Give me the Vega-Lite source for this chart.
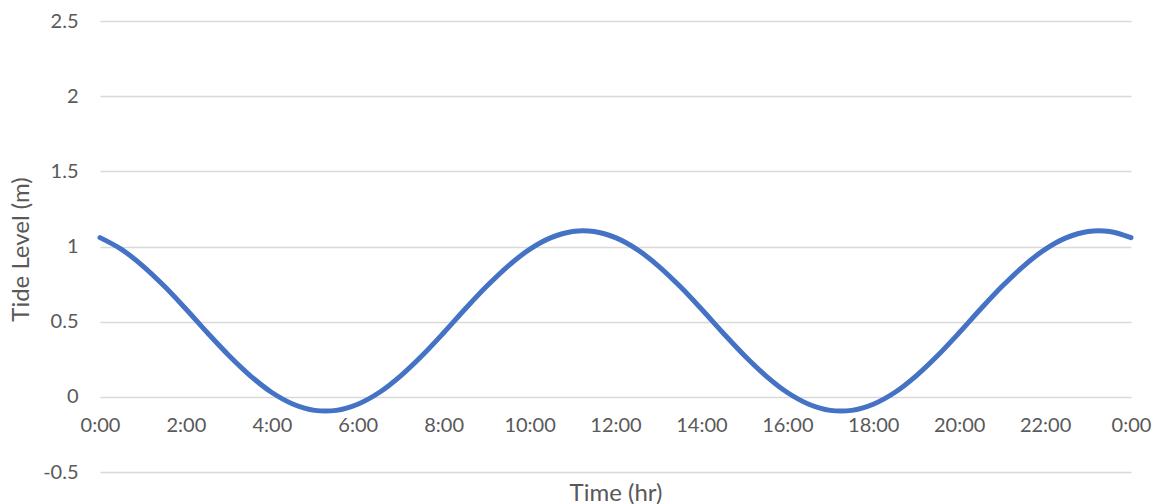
{
  "$schema": "https://vega.github.io/schema/vega-lite/v6.json",
  "width": 1031,
  "height": 451,
  "autosize": "none",
  "padding": {"left": 100, "top": 21, "right": 22, "bottom": 32},
  "background": "white",
  "config": {"view": {"stroke": null}, "font": "Lato"},
  "data": {
    "values": [
      {"hour": 0, "level": 1.059}, {"hour": 0.5, "level": 0.981}, {"hour": 1, "level": 0.870}, {"hour": 1.5, "level": 0.735},
      {"hour": 2, "level": 0.584}, {"hour": 2.5, "level": 0.426}, {"hour": 3, "level": 0.275}, {"hour": 3.5, "level": 0.140},
      {"hour": 4, "level": 0.029}, {"hour": 4.5, "level": -0.049}, {"hour": 5, "level": -0.090}, {"hour": 5.5, "level": -0.090},
      {"hour": 6, "level": -0.049}, {"hour": 6.5, "level": 0.029}, {"hour": 7, "level": 0.140}, {"hour": 7.5, "level": 0.275},
      {"hour": 8, "level": 0.426}, {"hour": 8.5, "level": 0.584}, {"hour": 9, "level": 0.735}, {"hour": 9.5, "level": 0.870},
      {"hour": 10, "level": 0.981}, {"hour": 10.5, "level": 1.059}, {"hour": 11, "level": 1.100}, {"hour": 11.5, "level": 1.100},
      {"hour": 12, "level": 1.059}, {"hour": 12.5, "level": 0.981}, {"hour": 13, "level": 0.870}, {"hour": 13.5, "level": 0.735},
      {"hour": 14, "level": 0.584}, {"hour": 14.5, "level": 0.426}, {"hour": 15, "level": 0.275}, {"hour": 15.5, "level": 0.140},
      {"hour": 16, "level": 0.029}, {"hour": 16.5, "level": -0.049}, {"hour": 17, "level": -0.090}, {"hour": 17.5, "level": -0.090},
      {"hour": 18, "level": -0.049}, {"hour": 18.5, "level": 0.029}, {"hour": 19, "level": 0.140}, {"hour": 19.5, "level": 0.275},
      {"hour": 20, "level": 0.426}, {"hour": 20.5, "level": 0.584}, {"hour": 21, "level": 0.735}, {"hour": 21.5, "level": 0.870},
      {"hour": 22, "level": 0.981}, {"hour": 22.5, "level": 1.059}, {"hour": 23, "level": 1.100}, {"hour": 23.5, "level": 1.100},
      {"hour": 24, "level": 1.059}
    ]
  },
  "mark": {"type": "line", "color": "#4472C4", "strokeWidth": 5, "interpolate": "catmull-rom", "strokeCap": "round", "strokeJoin": "round"},
  "encoding": {
    "x": {
      "field": "hour",
      "type": "quantitative",
      "scale": {"domain": [0, 24], "nice": false, "zero": false},
      "axis": {
        "values": [0, 2, 4, 6, 8, 10, 12, 14, 16, 18, 20, 22, 24],
        "labelExpr": "(datum.value % 24) + ':00'",
        "offset": -75,
        "domain": false,
        "ticks": false,
        "grid": false,
        "labelFlush": false,
        "labelOverlap": false,
        "labelPadding": 18,
        "labelFontSize": 20,
        "labelColor": "#595959",
        "title": "Time (hr)",
        "titleFontSize": 24,
        "titleFontWeight": "normal",
        "titleColor": "#595959",
        "titleX": 515.5,
        "titleY": 103,
        "titleBaseline": "alphabetic"
      }
    },
    "y": {
      "field": "level",
      "type": "quantitative",
      "scale": {"domain": [-0.5, 2.5], "nice": false, "zero": false},
      "axis": {
        "values": [-0.5, 0, 0.5, 1, 1.5, 2, 2.5],
        "labelExpr": "'' + datum.value",
        "grid": true,
        "gridColor": "#d9d9d9",
        "gridWidth": 1.5,
        "domain": false,
        "ticks": false,
        "labelPadding": 22,
        "labelFontSize": 20,
        "labelColor": "#595959",
        "title": "Tide Level (m)",
        "titleFontSize": 24,
        "titleFontWeight": "normal",
        "titleColor": "#595959",
        "titleAngle": 270,
        "titleX": -72,
        "titleY": 228,
        "titleBaseline": "alphabetic"
      }
    }
  }
}
